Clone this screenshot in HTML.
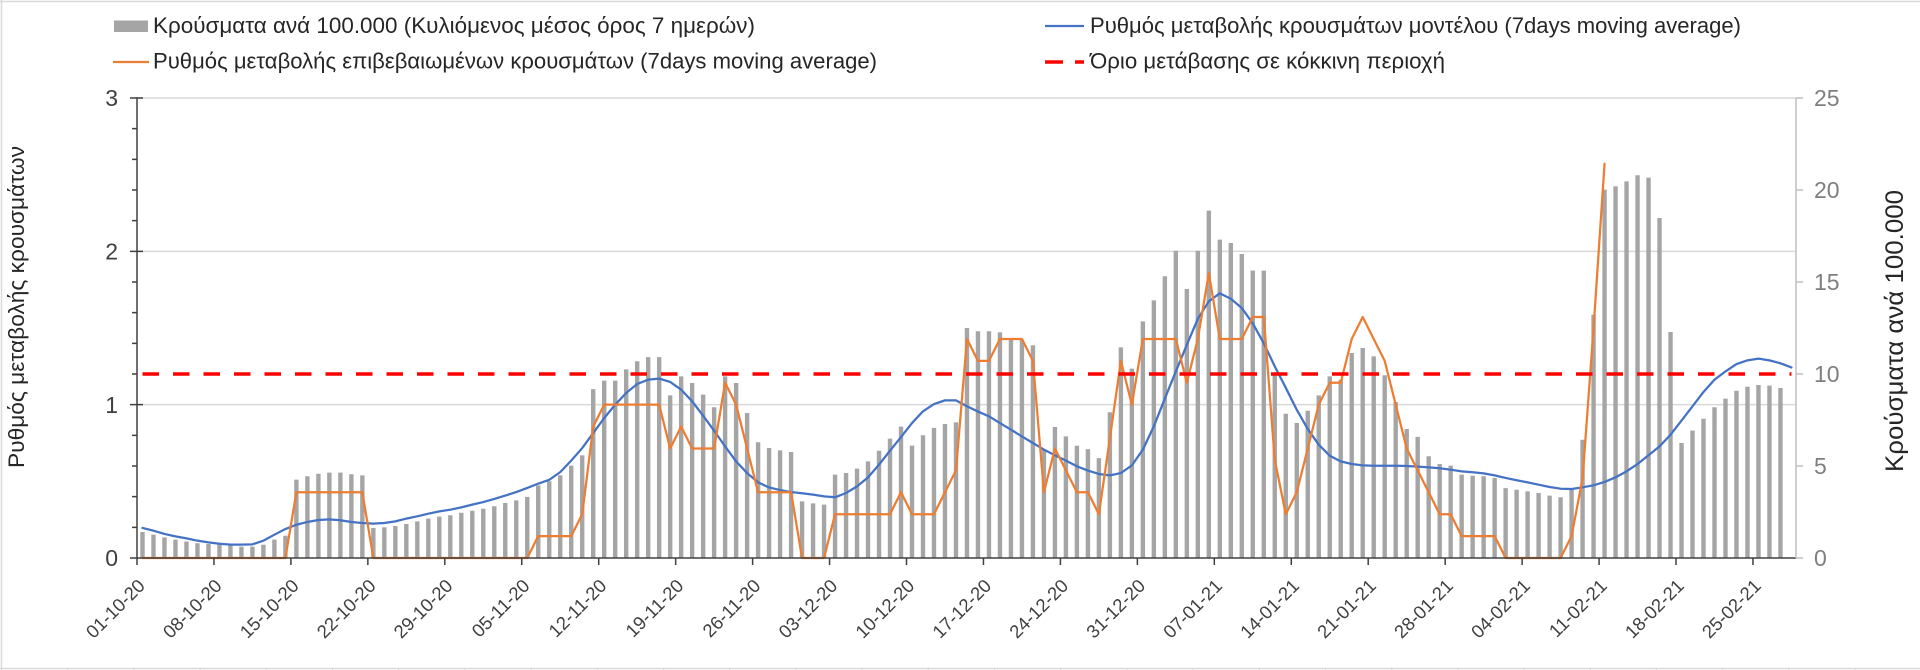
<!DOCTYPE html>
<html><head><meta charset="utf-8"><style>html,body{margin:0;padding:0;background:#fff;}svg{display:block;}text{font-family:"Liberation Sans","DejaVu Sans",sans-serif;}</style></head><body>
<svg width="1920" height="670" viewBox="0 0 1920 670" xmlns="http://www.w3.org/2000/svg">
<rect width="1920" height="670" fill="#fff"/>
<path d="M0,1.5H1920M1.5,0V668M0,668.5H1920" stroke="#d9d9d9" stroke-width="1.5" fill="none"/>
<path d="M1.5,668v3m66.2,-3v3m66.2,-3v3m66.2,-3v3m66.2,-3v3m66.2,-3v3m66.2,-3v3m66.2,-3v3m66.2,-3v3m66.2,-3v3m66.2,-3v3m66.2,-3v3m66.2,-3v3m66.2,-3v3m66.2,-3v3m66.2,-3v3m66.2,-3v3m66.2,-3v3m66.2,-3v3m66.2,-3v3m66.2,-3v3m66.2,-3v3m66.2,-3v3m66.2,-3v3m66.2,-3v3m66.2,-3v3m66.2,-3v3m66.2,-3v3m66.2,-3v3" stroke="#d9d9d9" stroke-width="1.2" fill="none"/>
<path d="M137,98H1796M137,251.33H1796M137,404.67H1796" stroke="#d9d9d9" stroke-width="1.5" fill="none"/>
<g transform="translate(142.4965,558) scale(10.993,-18.4)">
<path fill="#a5a5a5" d="M-0.2,0v1.41h.4v-1.41m.6,0v1.27h.4v-1.27m.6,0v1.12h.4v-1.12m.6,0v1h.4v-1m.6,0v.9h.4v-.9m.6,0v.8h.4v-.8m.6,0v.76h.4v-.76m.6,0v.72h.4v-.72m.6,0v.69h.4v-.69m.6,0v.62h.4v-.62m.6,0v.62h.4v-.62m.6,0v.72h.4v-.72m.6,0v1h.4v-1m.6,0v1.21h.4v-1.21m.6,0v4.26h.4v-4.26m.6,0v4.44h.4v-4.44m.6,0v4.58h.4v-4.58m.6,0v4.64h.4v-4.64m.6,0v4.64h.4v-4.64m.6,0v4.55h.4v-4.55m.6,0v4.49h.4v-4.49m.6,0v1.63h.4v-1.63m.6,0v1.67h.4v-1.67m.6,0v1.74h.4v-1.74m.6,0v1.85h.4v-1.85m.6,0v1.99h.4v-1.99m.6,0v2.14h.4v-2.14m.6,0v2.25h.4v-2.25m.6,0v2.32h.4v-2.32m.6,0v2.46h.4v-2.46m.6,0v2.57h.4v-2.57m.6,0v2.68h.4v-2.68m.6,0v2.81h.4v-2.81m.6,0v2.99h.4v-2.99m.6,0v3.13h.4v-3.13m.6,0v3.32h.4v-3.32m.6,0v3.95h.4v-3.95m.6,0v4.17h.4v-4.17m.6,0v4.49h.4v-4.49m.6,0v5.02h.4v-5.02m.6,0v5.58h.4v-5.58m.6,0v9.18h.4v-9.18m.6,0v9.64h.4v-9.64m.6,0v9.64h.4v-9.64m.6,0v10.25h.4v-10.25m.6,0v10.69h.4v-10.69m.6,0v10.92h.4v-10.92m.6,0v10.92h.4v-10.92m.6,0v8.84h.4v-8.84m.6,0v9.87h.4v-9.87m.6,0v9.51h.4v-9.51m.6,0v8.88h.4v-8.88m.6,0v8.19h.4v-8.19m.6,0v9.87h.4v-9.87m.6,0v9.51h.4v-9.51m.6,0v7.88h.4v-7.88m.6,0v6.29h.4v-6.29m.6,0v5.98h.4v-5.98m.6,0v5.85h.4v-5.85m.6,0v5.76h.4v-5.76m.6,0v3.08h.4v-3.08m.6,0v2.97h.4v-2.97m.6,0v2.9h.4v-2.9m.6,0v4.53h.4v-4.53m.6,0v4.62h.4v-4.62m.6,0v4.86h.4v-4.86m.6,0v5.25h.4v-5.25m.6,0v5.83h.4v-5.83m.6,0v6.49h.4v-6.49m.6,0v7.14h.4v-7.14m.6,0v6.11h.4v-6.11m.6,0v6.67h.4v-6.67m.6,0v7.07h.4v-7.07m.6,0v7.28h.4v-7.28m.6,0v7.37h.4v-7.37m.6,0v12.5h.4v-12.5m.6,0v12.32h.4v-12.32m.6,0v12.32h.4v-12.32m.6,0v12.26h.4v-12.26m.6,0v11.92h.4v-11.92m.6,0v11.87h.4v-11.87m.6,0v11.56h.4v-11.56m.6,0v5.9h.4v-5.9m.6,0v7.12h.4v-7.12m.6,0v6.61h.4v-6.61m.6,0v6.1h.4v-6.1m.6,0v5.92h.4v-5.92m.6,0v5.43h.4v-5.43m.6,0v7.92h.4v-7.92m.6,0v11.45h.4v-11.45m.6,0v10.29h.4v-10.29m.6,0v12.86h.4v-12.86m.6,0v14h.4v-14m.6,0v15.31h.4v-15.31m.6,0v16.7h.4v-16.7m.6,0v14.62h.4v-14.62m.6,0v16.7h.4v-16.7m.6,0v18.88h.4v-18.88m.6,0v17.3h.4v-17.3m.6,0v17.12h.4v-17.12m.6,0v16.52h.4v-16.52m.6,0v15.62h.4v-15.62m.6,0v15.62h.4v-15.62m.6,0v10h.4v-10m.6,0v7.84h.4v-7.84m.6,0v7.34h.4v-7.34m.6,0v8h.4v-8m.6,0v8.84h.4v-8.84m.6,0v9.87h.4v-9.87m.6,0v9.69h.4v-9.69m.6,0v11.14h.4v-11.14m.6,0v11.41h.4v-11.41m.6,0v10.96h.4v-10.96m.6,0v9.93h.4v-9.93m.6,0v8.48h.4v-8.48m.6,0v7.01h.4v-7.01m.6,0v6.58h.4v-6.58m.6,0v5.53h.4v-5.53m.6,0v5.11h.4v-5.11m.6,0v5.02h.4v-5.02m.6,0v4.53h.4v-4.53m.6,0v4.47h.4v-4.47m.6,0v4.44h.4v-4.44m.6,0v4.35h.4v-4.35m.6,0v3.8h.4v-3.8m.6,0v3.71h.4v-3.71m.6,0v3.62h.4v-3.62m.6,0v3.53h.4v-3.53m.6,0v3.39h.4v-3.39m.6,0v3.3h.4v-3.3m.6,0v3.75h.4v-3.75m.6,0v6.43h.4v-6.43m.6,0v13.22h.4v-13.22m.6,0v20.02h.4v-20.02m.6,0v20.2h.4v-20.2m.6,0v20.47h.4v-20.47m.6,0v20.8h.4v-20.8m.6,0v20.67h.4v-20.67m.6,0v18.48h.4v-18.48m.6,0v12.28h.4v-12.28m.6,0v6.25h.4v-6.25m.6,0v6.92h.4v-6.92m.6,0v7.57h.4v-7.57m.6,0v8.19h.4v-8.19m.6,0v8.66h.4v-8.66m.6,0v9.09h.4v-9.09m.6,0v9.31h.4v-9.31m.6,0v9.4h.4v-9.4m.6,0v9.37h.4v-9.37m.6,0v9.24h.4v-9.24"/>
</g>
<g transform="translate(142.4965,558) scale(10.993,-153.333)" fill="none" stroke-linejoin="round" stroke-linecap="round">
<polyline vector-effect="non-scaling-stroke" stroke="#4472c4" stroke-width="2.25" points="0,.196 1,.178 2,.157 3,.141 4,.128 5,.113 6,.102 7,.093 8,.087 9,.087 10,.089 11,.113 12,.152 13,.189 14,.217 15,.235 16,.248 17,.252 18,.246 19,.235 20,.228 21,.224 22,.228 23,.239 24,.257 25,.272 26,.289 27,.304 28,.315 29,.33 30,.348 31,.365 32,.385 33,.407 34,.43 35,.457 36,.485 37,.51 38,.56 39,.635 40,.717 41,.815 42,.913 43,1 44,1.076 45,1.135 46,1.163 47,1.17 48,1.148 49,1.098 50,1.022 51,.928 52,.83 53,.728 54,.63 55,.554 56,.493 57,.46 58,.443 59,.43 60,.422 61,.413 62,.402 63,.396 64,.424 65,.467 66,.526 67,.609 68,.7 69,.789 70,.88 71,.957 72,1.004 73,1.028 74,1.028 75,.99 76,.955 77,.924 78,.88 79,.837 80,.793 81,.75 82,.707 83,.67 84,.635 85,.598 86,.57 87,.548 88,.539 89,.554 90,.604 91,.707 92,.859 93,1.04 94,1.217 95,1.39 96,1.56 97,1.674 98,1.726 99,1.691 100,1.63 101,1.53 102,1.4 103,1.25 104,1.11 105,.967 106,.841 107,.739 108,.667 109,.63 110,.613 111,.604 112,.602 113,.602 114,.602 115,.6 116,.596 117,.591 118,.585 119,.576 120,.565 121,.559 122,.552 123,.539 124,.522 125,.507 126,.493 127,.478 128,.463 129,.452 130,.45 131,.461 132,.474 133,.496 134,.526 135,.565 136,.613 137,.67 138,.728 139,.804 140,.896 141,.989 142,1.083 143,1.163 144,1.217 145,1.265 146,1.289 147,1.3 148,1.289 149,1.27 150,1.243"/>
<polyline vector-effect="non-scaling-stroke" stroke="#ed7d31" stroke-width="2.25" points="0,0 13,0 14,.4286 20,.4286 21,0 35,0 36,.1429 39,.1429 40,.2857 41,.8571 42,1 47,1 48,.7143 49,.8571 50,.7143 52,.7143 53,1.1429 54,1 55,.7143 56,.4286 59,.4286 60,0 62,0 63,.2857 68,.2857 69,.4286 70,.2857 72,.2857 73,.4286 74,.5714 75,1.4286 76,1.2857 77,1.2857 78,1.4286 80,1.4286 81,1.2857 82,.4286 83,.7143 84,.5714 85,.4286 86,.4286 87,.2857 88,.78 89,1.2857 90,1 91,1.4286 94,1.4286 95,1.1429 96,1.4286 97,1.8571 98,1.4286 100,1.4286 101,1.5714 102,1.5714 103,.64 104,.2857 105,.4286 106,.7143 107,1 108,1.1429 109,1.1429 110,1.4286 111,1.5714 112,1.4286 113,1.2857 114,1 115,.7143 116,.5714 117,.4286 118,.2857 119,.2857 120,.1429 123,.1429 124,0 129,0 130,.1429 131,.52 132,1.5 133,2.5714"/>
</g>
<line x1="142.5" y1="374" x2="1791.5" y2="374" stroke="#ff0000" stroke-width="3.6" stroke-dasharray="16.5 14"/>
<path d="M137,97.3V558.75M136.25,558H1796" stroke="#404040" stroke-width="1.5" fill="none"/>
<path d="M130,98h13M130,251.33h13M130,404.67h13M130,558h7M132,527.33h5M132,496.67h5M132,466h5M132,435.33h5M132,374h5M132,343.33h5M132,312.67h5M132,282h5M132,220.67h5M132,190h5M132,159.33h5M132,128.67h5" stroke="#404040" stroke-width="1.5" fill="none"/>
<path d="M137,558v7m76.951,-7v7m76.951,-7v7m76.951,-7v7m76.951,-7v7m76.951,-7v7m76.951,-7v7m76.951,-7v7m76.951,-7v7m76.951,-7v7m76.951,-7v7m76.951,-7v7m76.951,-7v7m76.951,-7v7m76.951,-7v7m76.951,-7v7m76.951,-7v7m76.951,-7v7m76.951,-7v7m76.951,-7v7m76.951,-7v7m76.951,-7v7" stroke="#404040" stroke-width="1.5" fill="none"/>
<path d="M1796,98V558M1796,98h7M1796,190h7M1796,282h7M1796,374h7M1796,466h7M1796,558h7" stroke="#bfbfbf" stroke-width="1.5" fill="none"/>
<g font-size="23" fill="#404040" text-anchor="end">
<text x="118" y="106.2">3</text>
<text x="118" y="259.5">2</text>
<text x="118" y="412.9">1</text>
<text x="118" y="566.2">0</text>
</g>
<g font-size="23" fill="#7f7f7f">
<text x="1814" y="106.2">25</text>
<text x="1814" y="198.2">20</text>
<text x="1814" y="290.2">15</text>
<text x="1814" y="382.2">10</text>
<text x="1814" y="474.2">5</text>
<text x="1814" y="566.2">0</text>
</g>
<text transform="translate(24,307) rotate(-90)" text-anchor="middle" font-size="22.5" textLength="322" lengthAdjust="spacingAndGlyphs" fill="#262626">Ρυθμός μεταβολής κρουσμάτων</text>
<text transform="translate(1903,331) rotate(-90)" text-anchor="middle" font-size="25" textLength="282" lengthAdjust="spacingAndGlyphs" fill="#262626">Κρούσματα ανά 100.000</text>
<g font-size="18.5" fill="#404040" text-anchor="end">
<text transform="translate(146,587) rotate(-45)">01-10-20</text>
<text transform="translate(222.95,587) rotate(-45)">08-10-20</text>
<text transform="translate(299.9,587) rotate(-45)">15-10-20</text>
<text transform="translate(376.85,587) rotate(-45)">22-10-20</text>
<text transform="translate(453.8,587) rotate(-45)">29-10-20</text>
<text transform="translate(530.76,587) rotate(-45)">05-11-20</text>
<text transform="translate(607.7,587) rotate(-45)">12-11-20</text>
<text transform="translate(684.66,587) rotate(-45)">19-11-20</text>
<text transform="translate(761.6,587) rotate(-45)">26-11-20</text>
<text transform="translate(838.56,587) rotate(-45)">03-12-20</text>
<text transform="translate(915.5,587) rotate(-45)">10-12-20</text>
<text transform="translate(992.46,587) rotate(-45)">17-12-20</text>
<text transform="translate(1069.4,587) rotate(-45)">24-12-20</text>
<text transform="translate(1146.36,587) rotate(-45)">31-12-20</text>
<text transform="translate(1223.3,587) rotate(-45)">07-01-21</text>
<text transform="translate(1300.27,587) rotate(-45)">14-01-21</text>
<text transform="translate(1377.2,587) rotate(-45)">21-01-21</text>
<text transform="translate(1454.17,587) rotate(-45)">28-01-21</text>
<text transform="translate(1531.1,587) rotate(-45)">04-02-21</text>
<text transform="translate(1608.07,587) rotate(-45)">11-02-21</text>
<text transform="translate(1685,587) rotate(-45)">18-02-21</text>
<text transform="translate(1761.97,587) rotate(-45)">25-02-21</text>
</g>
<rect x="114" y="20.5" width="34" height="11.5" fill="#a5a5a5"/>
<line x1="113" y1="62" x2="149" y2="62" stroke="#ed7d31" stroke-width="2.25"/>
<line x1="1045" y1="26" x2="1084" y2="26" stroke="#4472c4" stroke-width="2.25"/>
<path d="M1045,62h18M1075,62h9" stroke="#ff0000" stroke-width="3.6" fill="none"/>
<g font-size="22" fill="#262626">
<text x="153" y="33" textLength="602" lengthAdjust="spacingAndGlyphs">Κρούσματα ανά 100.000 (Κυλιόμενος μέσος όρος 7 ημερών)</text>
<text x="153" y="68.5" textLength="724" lengthAdjust="spacingAndGlyphs">Ρυθμός μεταβολής επιβεβαιωμένων κρουσμάτων (7days moving average)</text>
<text x="1090" y="33" textLength="651" lengthAdjust="spacingAndGlyphs">Ρυθμός μεταβολής κρουσμάτων μοντέλου (7days moving average)</text>
<text x="1090" y="68.5" textLength="355" lengthAdjust="spacingAndGlyphs">Όριο μετάβασης σε κόκκινη περιοχή</text>
</g>
</svg>
</body></html>
